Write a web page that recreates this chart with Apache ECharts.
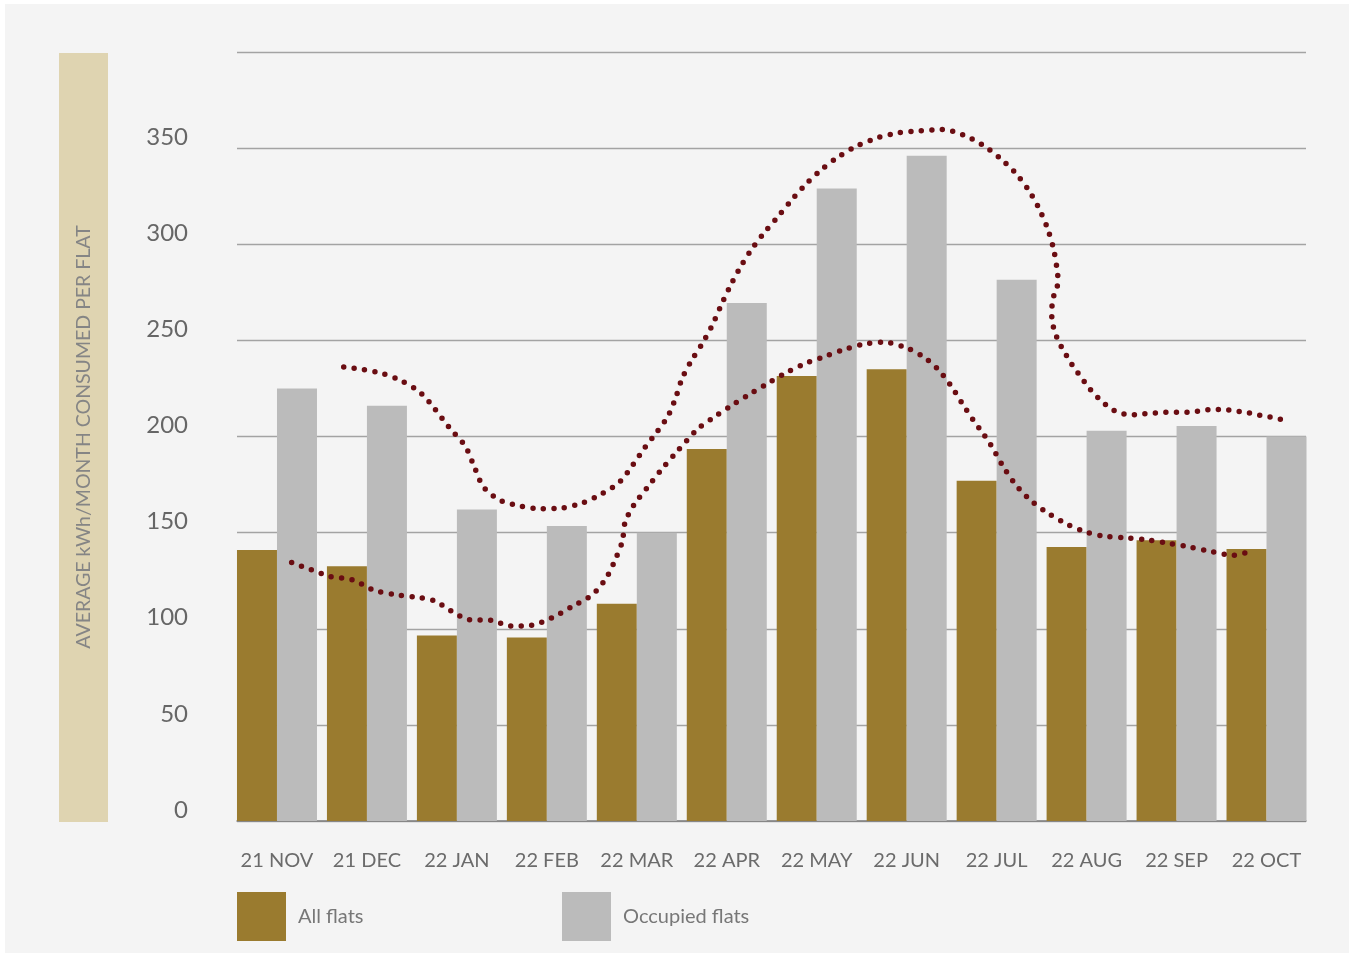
<!DOCTYPE html>
<html>
<head>
<meta charset="utf-8">
<script src="https://cdn.jsdelivr.net/npm/echarts@6/dist/echarts.min.js"></script>
<style>
  html, body { margin: 0; padding: 0; background: #ffffff; }
  #frame { position: absolute; left: 5px; top: 4px; width: 1344px; height: 949px; background: #f4f4f4; }
  #chart { position: absolute; left: 0; top: 0; width: 1354px; height: 957px; }
</style>
</head>
<body>
<div id="frame"></div>
<div id="chart"></div>
<script>
// Months on the category axis
const months = ['21 NOV', '21 DEC', '22 JAN', '22 FEB', '22 MAR', '22 APR',
                '22 MAY', '22 JUN', '22 JUL', '22 AUG', '22 SEP', '22 OCT'];

// Average kWh per month per flat
const allFlats = [141, 132.5, 96.5, 95.5, 113, 193.5, 231.5, 235, 177, 142.5, 146, 141.5];
const occupiedFlats = [225, 216, 162, 153.5, 150, 269.5, 329, 346, 281.5, 203, 205.5, 200];

// Y-axis ticks
const yTicks = [0, 50, 100, 150, 200, 250, 300, 350, 400];

// Trend curves: [month position (0 = 21 NOV), kWh]
const trendAll = [
  [0.163, 134.4], [0.378, 130.7], [0.589, 127.2], [0.842, 125.4], [1.067, 120.3],
  [1.309, 117.7], [1.534, 116.5], [1.745, 114.6], [1.931, 109.4], [2.138, 104.7],
  [2.379, 104.4], [2.601, 101.4], [2.824, 101.8], [3.057, 105.7], [3.272, 111.3],
  [3.510, 117.9], [3.665, 126.8], [3.761, 136.1], [3.839, 145.5], [3.869, 155.2],
  [3.969, 164.5], [4.121, 173.7], [4.272, 182.7], [4.432, 191.4], [4.684, 204.2],
  [4.866, 210.3], [5.058, 216.2], [5.255, 222.0], [5.451, 227.5], [5.651, 232.9],
  [5.859, 237.7], [6.073, 241.4], [6.292, 245.0], [6.518, 248.0], [6.748, 249.0],
  [6.971, 246.6], [7.171, 241.9], [7.341, 235.3], [7.482, 227.1], [7.615, 217.4],
  [7.749, 207.9], [7.816, 203.7], [7.930, 196.0], [8.068, 184.7], [8.197, 175.8],
  [8.349, 168.0], [8.535, 161.2], [8.738, 155.5], [8.957, 150.9], [9.191, 148.2],
  [9.424, 147.3], [9.661, 146.3], [9.898, 144.6], [10.142, 142.5], [10.395, 140.1],
  [10.631, 138.2], [10.843, 140.6]
];
const trendOccupied = [
  [0.742, 236.2], [0.959, 234.8], [1.175, 232.7], [1.386, 228.9], [1.590, 223.0],
  [1.749, 214.7], [1.916, 204.6], [2.090, 195.2], [2.193, 184.3], [2.298, 173.6],
  [2.487, 166.7], [2.709, 163.8], [2.938, 162.4], [3.168, 162.8], [3.394, 165.4],
  [3.605, 170.1], [3.802, 176.1], [3.950, 184.8], [4.083, 193.8], [4.221, 202.2],
  [4.347, 210.7], [4.432, 220.2], [4.506, 230.5], [4.614, 240.0], [4.736, 249.0],
  [4.847, 258.7], [4.939, 268.4], [5.039, 278.3], [5.147, 287.8], [5.270, 297.0],
  [5.411, 305.7], [5.562, 314.0], [5.718, 322.8], [5.878, 331.2], [6.056, 339.0],
  [6.248, 345.7], [6.451, 351.2], [6.678, 355.4], [6.912, 358.0], [7.148, 359.0],
  [7.390, 359.7], [7.623, 357.0], [7.838, 351.8], [8.034, 344.9], [8.208, 337.1],
  [8.357, 328.0], [8.475, 318.2], [8.568, 307.9], [8.635, 297.0], [8.675, 285.7],
  [8.683, 280.2], [8.641, 274.3], [8.616, 268.2], [8.613, 262.2], [8.635, 256.1],
  [8.672, 251.2], [8.719, 246.7], [8.775, 242.2], [8.831, 237.9], [8.894, 233.7],
  [8.957, 229.7], [9.024, 225.4], [9.102, 221.4], [9.183, 217.7], [9.272, 214.4],
  [9.375, 212.2], [9.497, 211.3], [9.624, 211.7], [9.750, 212.2], [9.875, 212.6],
  [10.002, 212.6], [10.128, 212.6], [10.250, 213.3], [10.376, 214.0], [10.502, 214.1],
  [10.628, 213.4], [10.754, 212.7], [10.876, 211.5], [11.003, 210.5], [11.125, 209.3],
  [11.251, 208.1]
];

const FONT = 'Lato, "Open Sans", sans-serif';
const GOLD = '#9a7b2f';
const GREY = '#bbbbbb';
const DOT = '#6a0d12';
const yMin = yTicks[0], yMax = yTicks[yTicks.length - 1], yStep = yTicks[1] - yTicks[0];

const chart = echarts.init(document.getElementById('chart'), null, { renderer: 'canvas' });

const dotted = {
  color: DOT,
  width: 5.5,
  type: [0, 10.5],
  cap: 'round'
};

const legendBase = {
  top: 892,
  padding: 0,
  icon: 'rect', itemWidth: 49, itemHeight: 49,
  textStyle: { color: '#777777', fontSize: 20, fontFamily: FONT, padding: [0, 0, 0, 7] },
  selectedMode: false
};

chart.setOption({
  backgroundColor: 'transparent',
  animation: false,
  textStyle: { fontFamily: FONT },
  graphic: [
    {
      type: 'rect',
      left: 59, top: 53,
      shape: { width: 49, height: 769 },
      style: { fill: '#dfd4b1' },
      z: 0
    },
    {
      type: 'text',
      x: 84, y: 437,
      rotation: Math.PI / 2,
      style: {
        text: 'AVERAGE kWh/MONTH CONSUMED PER FLAT',
        fill: '#858585',
        font: '19.5px ' + FONT,
        align: 'center',
        verticalAlign: 'middle'
      },
      z: 1
    }
  ],
  legend: [
    Object.assign({}, legendBase, { data: ['All flats'], left: 237 }),
    Object.assign({}, legendBase, { data: ['Occupied flats'], left: 562 })
  ],
  grid: [
    // gridlines, y labels and baseline
    { left: 237, right: 48, top: 52, bottom: 136 },
    // bars, month labels and trend curves
    { left: 232, right: 42.5, top: 52, bottom: 136 }
  ],
  xAxis: [
    {
      gridIndex: 0, type: 'value', min: 0, max: 1,
      axisLine: { show: true, onZero: false, lineStyle: { color: '#7f7f7f', width: 1.5 } },
      axisTick: { show: false }, axisLabel: { show: false }, splitLine: { show: false }
    },
    {
      gridIndex: 1, type: 'category', data: months,
      axisLine: { show: false }, axisTick: { show: false },
      axisLabel: { color: '#6b6b6b', fontSize: 20, fontFamily: FONT, margin: 30, interval: 0 }
    },
    {
      gridIndex: 1, type: 'value', min: -0.5, max: 11.5, show: false
    }
  ],
  yAxis: [
    {
      gridIndex: 0, type: 'value', min: yMin, max: yMax, interval: yStep,
      axisLine: { show: false }, axisTick: { show: false },
      splitLine: { lineStyle: { color: '#a3a3a3', width: 1.3 } },
      axisLabel: {
        color: '#666666', fontSize: 24, fontFamily: FONT, margin: 49,
        verticalAlign: 'bottom', lineHeight: 22,
        formatter: v => (v === yMax ? '' : String(v))
      }
    },
    {
      gridIndex: 1, type: 'value', min: yMin, max: yMax, interval: yStep, show: false
    }
  ],
  series: [
    {
      name: 'All flats', type: 'bar', xAxisIndex: 1, yAxisIndex: 1,
      data: allFlats, barWidth: 40, barGap: '0%',
      itemStyle: { color: GOLD }, z: 2
    },
    {
      name: 'Occupied flats', type: 'bar', xAxisIndex: 1, yAxisIndex: 1,
      data: occupiedFlats, barWidth: 40, barGap: '0%',
      itemStyle: { color: GREY }, z: 2
    },
    {
      name: 'All flats trend', type: 'line', xAxisIndex: 2, yAxisIndex: 1,
      data: trendAll, smooth: 0.3, symbol: 'none', silent: true,
      lineStyle: dotted, z: 5
    },
    {
      name: 'Occupied flats trend', type: 'line', xAxisIndex: 2, yAxisIndex: 1,
      data: trendOccupied, smooth: 0.3, symbol: 'none', silent: true,
      lineStyle: dotted, z: 5
    }
  ]
});
</script>
</body>
</html>
